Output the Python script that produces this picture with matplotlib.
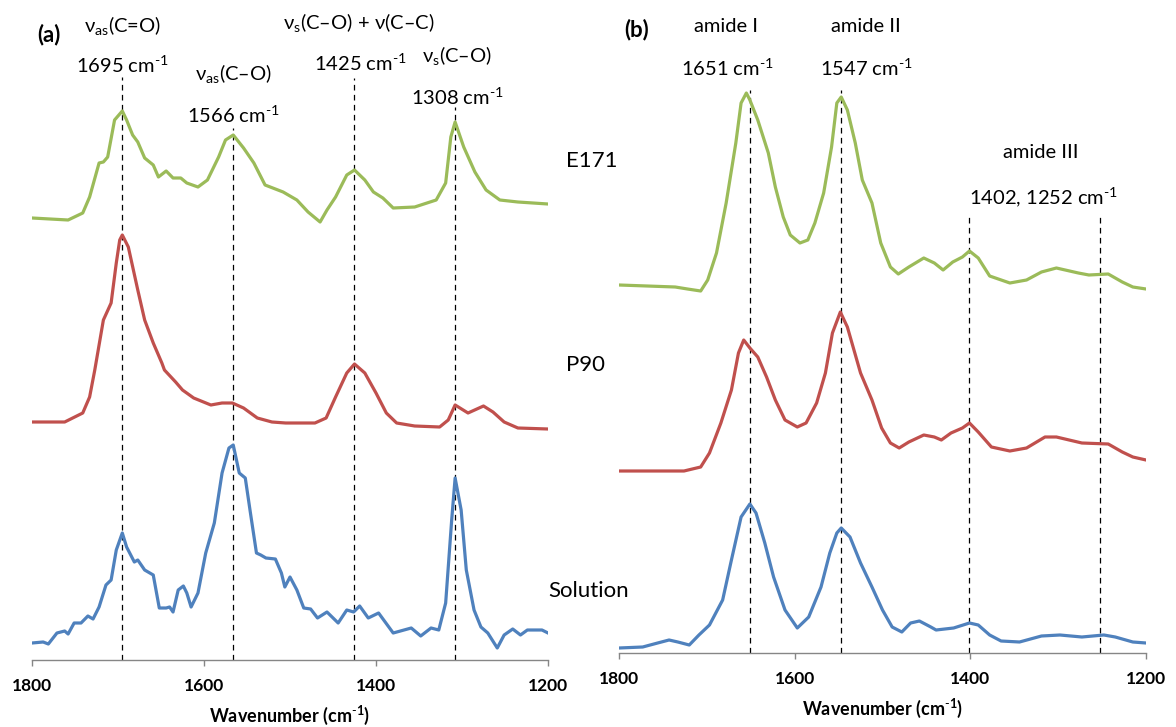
import matplotlib
matplotlib.use("Agg")
from matplotlib import pyplot as plt

plt.rcParams['font.family'] = ['Lato', 'DejaVu Sans']
plt.rcParams['mathtext.fontset'] = 'custom'
plt.rcParams['mathtext.rm'] = 'Lato'
plt.rcParams['mathtext.bf'] = 'Lato:bold'
plt.rcParams['mathtext.default'] = 'regular'

GREEN = '#9BBB59'
RED = '#C0504D'
BLUE = '#4F81BD'

tick_pos = [1800, 1600, 1400, 1200]
tick_labels = ['1800', '1600', '1400', '1200']

# panel (a) spectra
a_e171_wn = [1800, 1758, 1741, 1733, 1722, 1717, 1712, 1704, 1695, 1690, 1683, 1677, 1669, 1659, 1653,
             1644, 1636, 1627, 1620, 1607, 1596, 1583, 1575, 1566, 1554, 1542, 1529, 1508, 1492, 1479,
             1465, 1457, 1447, 1434, 1425, 1413, 1403, 1392, 1380, 1355, 1330, 1319, 1313, 1308, 1298,
             1285, 1272, 1256, 1235, 1200]
a_e171_abs = [4.39, 4.37, 4.44, 4.60, 4.94, 4.95, 5.00, 5.37, 5.46, 5.37, 5.22, 5.15, 4.99, 4.92, 4.80,
              4.86, 4.79, 4.79, 4.74, 4.70, 4.77, 5.00, 5.17, 5.22, 5.09, 4.94, 4.72, 4.65, 4.57, 4.45,
              4.35, 4.47, 4.60, 4.82, 4.87, 4.77, 4.65, 4.59, 4.49, 4.50, 4.57, 4.74, 5.20, 5.35, 5.10,
              4.85, 4.67, 4.57, 4.55, 4.53]

a_p90_wn = [1800, 1762, 1741, 1733, 1727, 1717, 1708, 1702, 1698, 1695, 1688, 1677, 1669, 1659, 1649,
            1646, 1633, 1625, 1612, 1592, 1579, 1567, 1554, 1538, 1521, 1505, 1471, 1458, 1447, 1434,
            1425, 1413, 1400, 1388, 1376, 1355, 1326, 1316, 1308, 1293, 1275, 1264, 1251, 1235, 1200]
a_p90_abs = [2.35, 2.35, 2.44, 2.60, 2.87, 3.37, 3.54, 3.94, 4.17, 4.22, 4.10, 3.67, 3.37, 3.14, 2.94,
             2.87, 2.75, 2.67, 2.59, 2.52, 2.54, 2.54, 2.49, 2.39, 2.35, 2.34, 2.34, 2.39, 2.60, 2.84,
             2.93, 2.84, 2.64, 2.44, 2.34, 2.31, 2.30, 2.37, 2.52, 2.44, 2.51, 2.45, 2.35, 2.29, 2.28]

a_sol_wn = [1800, 1787, 1781, 1771, 1762, 1758, 1751, 1743, 1735, 1729, 1722, 1714, 1708, 1702, 1695,
            1690, 1681, 1677, 1669, 1659, 1652, 1644, 1640, 1636, 1630, 1624, 1620, 1615, 1607, 1598,
            1588, 1579, 1571, 1566, 1559, 1552, 1546, 1539, 1534, 1528, 1517, 1510, 1506, 1500, 1492,
            1484, 1476, 1468, 1457, 1444, 1434, 1426, 1419, 1409, 1397, 1380, 1359, 1348, 1336, 1327,
            1319, 1312, 1308, 1301, 1295, 1286, 1278, 1270, 1259, 1251, 1241, 1232, 1224, 1207, 1200]
a_sol_abs = [0.14, 0.15, 0.13, 0.24, 0.26, 0.23, 0.34, 0.34, 0.41, 0.38, 0.50, 0.72, 0.77, 1.07, 1.24,
             1.10, 0.95, 0.97, 0.87, 0.82, 0.49, 0.49, 0.50, 0.45, 0.67, 0.71, 0.64, 0.50, 0.64, 1.04,
             1.34, 1.84, 2.09, 2.12, 1.84, 1.79, 1.44, 1.04, 1.02, 0.99, 0.98, 0.84, 0.70, 0.80, 0.67,
             0.49, 0.48, 0.39, 0.45, 0.34, 0.47, 0.45, 0.51, 0.39, 0.44, 0.24, 0.29, 0.21, 0.29, 0.27,
             0.54, 1.37, 1.79, 1.47, 0.87, 0.47, 0.30, 0.24, 0.09, 0.22, 0.28, 0.22, 0.27, 0.27, 0.24]

# panel (b) spectra
b_e171_wn = [1800, 1736, 1722, 1707, 1699, 1689, 1678, 1667, 1661, 1655, 1651, 1642, 1630, 1622, 1613,
             1605, 1594, 1585, 1577, 1567, 1558, 1552, 1547, 1540, 1531, 1523, 1512, 1502, 1491, 1482,
             1470, 1453, 1441, 1431, 1420, 1409, 1401, 1391, 1378, 1355, 1336, 1319, 1302, 1277, 1265,
             1243, 1227, 1215, 1200]
b_e171_abs = [3.66, 3.64, 3.62, 3.60, 3.71, 3.98, 4.48, 5.08, 5.48, 5.58, 5.51, 5.31, 4.98, 4.64, 4.34,
              4.16, 4.08, 4.11, 4.28, 4.58, 5.04, 5.48, 5.54, 5.41, 5.08, 4.71, 4.48, 4.08, 3.84, 3.77,
              3.84, 3.93, 3.88, 3.81, 3.89, 3.94, 4.00, 3.93, 3.75, 3.68, 3.71, 3.79, 3.83, 3.78, 3.76,
              3.77, 3.69, 3.64, 3.62]

b_p90_wn = [1800, 1726, 1707, 1697, 1684, 1672, 1664, 1658, 1651, 1642, 1632, 1622, 1611, 1597, 1587,
            1575, 1565, 1557, 1548, 1540, 1525, 1512, 1501, 1491, 1481, 1470, 1453, 1441, 1433, 1422,
            1409, 1401, 1391, 1376, 1355, 1336, 1315, 1302, 1273, 1243, 1227, 1215, 1200]
b_p90_abs = [1.80, 1.80, 1.84, 1.98, 2.28, 2.61, 2.98, 3.11, 3.03, 2.94, 2.74, 2.51, 2.31, 2.24, 2.28,
             2.48, 2.78, 3.18, 3.39, 3.24, 2.78, 2.51, 2.23, 2.08, 2.03, 2.09, 2.16, 2.14, 2.11, 2.18,
             2.23, 2.28, 2.19, 2.04, 2.00, 2.03, 2.14, 2.14, 2.08, 2.07, 1.99, 1.94, 1.91]

b_sol_wn = [1800, 1773, 1756, 1743, 1733, 1720, 1709, 1697, 1682, 1672, 1661, 1651, 1644, 1634, 1624,
            1611, 1597, 1584, 1570, 1560, 1552, 1547, 1537, 1525, 1512, 1500, 1489, 1478, 1468, 1458,
            1445, 1439, 1419, 1401, 1391, 1378, 1365, 1344, 1319, 1298, 1273, 1248, 1235, 1215, 1200]
b_sol_abs = [0.03, 0.04, 0.08, 0.11, 0.09, 0.06, 0.16, 0.26, 0.51, 0.91, 1.34, 1.47, 1.38, 1.08, 0.74,
             0.41, 0.23, 0.34, 0.64, 0.98, 1.18, 1.23, 1.14, 0.88, 0.64, 0.41, 0.24, 0.19, 0.28, 0.30,
             0.24, 0.21, 0.23, 0.28, 0.26, 0.16, 0.10, 0.09, 0.15, 0.16, 0.14, 0.16, 0.14, 0.09, 0.08]

# marked bands: position, top of the dashed guide
a_bands = [1695, 1566, 1425, 1308]
a_band_tops = [5.80, 5.29, 5.79, 5.50]
b_bands = [1651, 1547, 1402, 1252]
b_band_tops = [5.61, 5.61, 4.36, 4.36]

CM1 = 'cm$^{\\text{-}1}$'

fig = plt.figure(figsize=(11.76, 7.27), dpi=100)
ax_a = fig.add_axes([32 / 1176, 67 / 727, 516 / 1176, 660 / 727])
ax_b = fig.add_axes([619 / 1176, 74 / 727, 527 / 1176, 653 / 727])


def style_axis(ax, ybot, ytop):
    ax.set_xlim(1800, 1200)
    ax.set_ylim(ybot, ytop)
    for s in ['left', 'right', 'top']:
        ax.spines[s].set_visible(False)
    ax.spines['bottom'].set_color('#868686')
    ax.spines['bottom'].set_linewidth(1.0)
    ax.set_yticks([])
    ax.set_xticks(tick_pos)
    ax.set_xticklabels(tick_labels, fontweight='bold', fontsize=12.5)
    ax.tick_params(axis='x', direction='out', length=4, width=1.0, color='#868686', pad=9)
    ax.set_xlabel('Wavenumber (' + CM1 + ')', fontweight='bold', fontsize=13, labelpad=7)
    ax.patch.set_alpha(0)


style_axis(ax_a, -0.03, 6.57)
style_axis(ax_b, -0.02, 6.51)

for ax, bands, tops in [(ax_a, a_bands, a_band_tops), (ax_b, b_bands, b_band_tops)]:
    for wn, top in zip(bands, tops):
        ax.plot([wn, wn], [ax.get_ylim()[0], top], color='black', lw=0.9,
                linestyle=(0, (4.5, 3.5)), zorder=1)

lw = 2.3
ax_a.plot(a_e171_wn, a_e171_abs, color=GREEN, lw=lw, solid_joinstyle='round', zorder=2)
ax_a.plot(a_p90_wn, a_p90_abs, color=RED, lw=lw, solid_joinstyle='round', zorder=2)
ax_a.plot(a_sol_wn, a_sol_abs, color=BLUE, lw=lw, solid_joinstyle='round', zorder=2)
ax_b.plot(b_e171_wn, b_e171_abs, color=GREEN, lw=lw, solid_joinstyle='round', zorder=2)
ax_b.plot(b_p90_wn, b_p90_abs, color=RED, lw=lw, solid_joinstyle='round', zorder=2)
ax_b.plot(b_sol_wn, b_sol_abs, color=BLUE, lw=lw, solid_joinstyle='round', zorder=2)

fs = 14.5
# panel (a) band assignments
ax_a.text(1794, 6.22, '(a)', fontsize=16, fontweight='bold', va='center', ha='left')
ax_a.text(1695, 6.32, '\u03bd$_{as}$(C=O)', fontsize=fs, ha='center', va='center')
ax_a.text(1695, 5.92, '1695 ' + CM1, fontsize=fs, ha='center', va='center')
ax_a.text(1566, 5.84, '\u03bd$_{as}$(C\u2013O)', fontsize=fs, ha='center', va='center')
ax_a.text(1566, 5.42, '1566 ' + CM1, fontsize=fs, ha='center', va='center')
ax_a.text(1420, 6.35, '\u03bd$_{s}$(C\u2013O) + \u03bd(C\u2013C)', fontsize=fs, ha='center', va='center')
ax_a.text(1418, 5.94, '1425 ' + CM1, fontsize=fs, ha='center', va='center')
ax_a.text(1306, 6.02, '\u03bd$_{s}$(C\u2013O)', fontsize=fs, ha='center', va='center')
ax_a.text(1305, 5.60, '1308 ' + CM1, fontsize=fs, ha='center', va='center')

# panel (b) amide bands
ax_b.text(1794, 6.21, '(b)', fontsize=16, fontweight='bold', va='center', ha='left')
ax_b.text(1678, 6.24, 'amide I', fontsize=fs, ha='center', va='center')
ax_b.text(1519, 6.24, 'amide II', fontsize=fs, ha='center', va='center')
ax_b.text(1677, 5.83, '1651 ' + CM1, fontsize=fs, ha='center', va='center')
ax_b.text(1518, 5.83, '1547 ' + CM1, fontsize=fs, ha='center', va='center')
ax_b.text(1320, 4.98, 'amide III', fontsize=fs, ha='center', va='center')
ax_b.text(1317, 4.54, '1402, 1252 ' + CM1, fontsize=fs, ha='center', va='center')

# sample names between the panels
fig.text(566 / 1176, 1 - 161 / 727, 'E171', fontsize=16, va='center', ha='left')
fig.text(566 / 1176, 1 - 365 / 727, 'P90', fontsize=16, va='center', ha='left')
fig.text(548 / 1176, 1 - 591 / 727, 'Solution', fontsize=16, va='center', ha='left')

fig.savefig('out.png', dpi=100)
